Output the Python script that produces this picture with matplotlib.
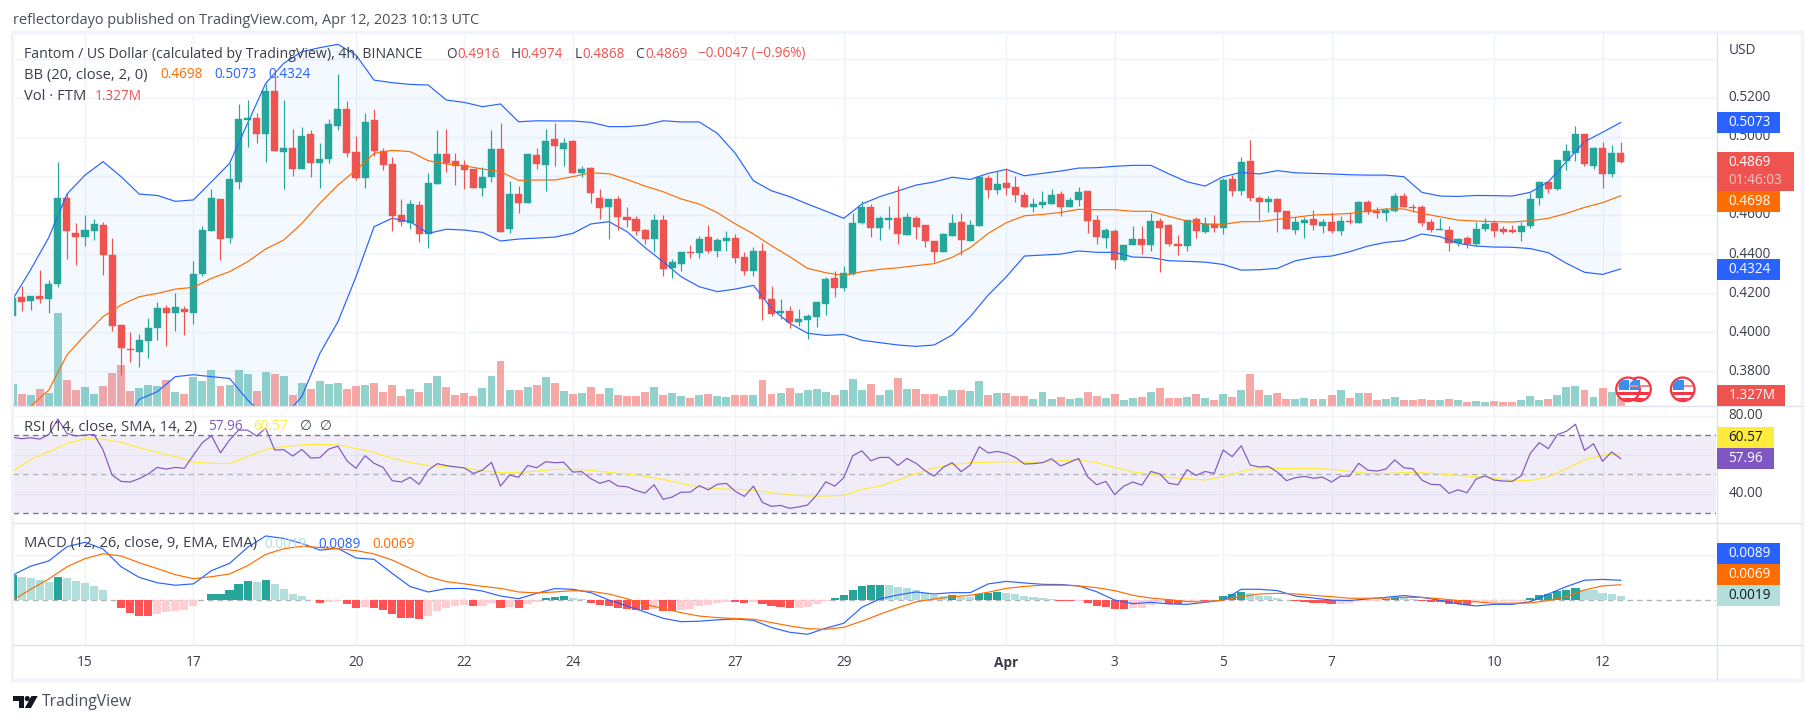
import numpy as np
import matplotlib
matplotlib.use("Agg")
import matplotlib.pyplot as plt
from matplotlib.patches import Rectangle, Circle, Polygon

W, H = 1814, 724

# 4h bars, index 0 is 15 Mar 00:00, six bars a day
FIRST_BAR = -8
TICK_BARS = [0, 12, 30, 42, 54, 72, 84, 102, 114, 126, 138, 156, 168]
TICK_LABELS = ["15", "17", "20", "22", "24", "27", "29", "Apr", "3", "5", "7", "10", "12"]

opens = [
    .4085, .4179, .4162, .4186, .4172, .4249, .4687, .4508, .4489, .4520,
    .4549, .4395, .4037, .3914, .3899, .3957, .4024, .4124, .4100, .4121,
    .4100, .4298, .4520, .4682, .4482, .4770, .5087, .5096, .5014, .5234,
    .4922, .4942, .4837, .5014, .4868, .4885, .5057, .5142, .4922, .4791,
    .5086, .4929, .4861, .4600, .4561, .4651, .4504, .4760, .4912, .4876,
    .4856, .4837, .4740, .4796, .4937, .4528, .4707, .4663, .4907, .4857,
    .4989, .4939, .4978, .4815, .4840, .4687, .4642, .4680, .4590, .4579,
    .4525, .4477, .4574, .4329, .4349, .4411, .4405, .4487, .4416, .4467,
    .4482, .4385, .4313, .4416, .4170, .4099, .4109, .4053, .4063, .4078,
    .4145, .4278, .4226, .4298, .4559, .4641, .4533, .4574, .4585, .4498,
    .4585, .4549, .4467, .4411, .4492, .4564, .4467, .4544, .4789, .4728,
    .4764, .4743, .4702, .4641, .4651, .4656, .4707, .4641, .4677, .4723,
    .4574, .4482, .4518, .4370, .4446, .4477, .4446, .4569, .4549, .4452,
    .4441, .4579, .4513, .4554, .4533, .4784, .4723, .4876, .4687, .4666,
    .4683, .4620, .4523, .4559, .4579, .4545, .4564, .4518, .4568, .4559,
    .4666, .4620, .4610, .4620, .4697, .4641, .4641, .4564, .4523, .4523,
    .4457, .4482, .4452, .4528, .4559, .4528, .4523, .4513, .4544, .4689,
    .4769, .4733, .4876, .4917, .5014, .4850, .4943, .4810, .4916,
]
closes = [
    .4174, .4157, .4186, .4172, .4247, .4687, .4520, .4487, .4521, .4554,
    .4397, .4034, .3921, .3911, .3961, .4022, .4124, .4100, .4129, .4105,
    .4298, .4523, .4687, .4479, .4784, .5091, .5096, .5016, .5234, .4929,
    .4942, .4837, .5004, .4868, .4886, .5065, .5142, .4919, .4789, .5075,
    .4929, .4857, .4595, .4566, .4656, .4504, .4764, .4912, .4866, .4852,
    .4830, .4740, .4794, .4937, .4515, .4707, .4663, .4912, .4861, .4978,
    .4955, .4966, .4816, .4835, .4714, .4637, .4682, .4591, .4576, .4518,
    .4477, .4574, .4324, .4359, .4411, .4407, .4477, .4416, .4472, .4482,
    .4380, .4313, .4416, .4170, .4093, .4109, .4053, .4068, .4083, .4155,
    .4273, .4226, .4303, .4559, .4641, .4533, .4585, .4585, .4503, .4590,
    .4539, .4467, .4411, .4503, .4559, .4472, .4549, .4794, .4728, .4758,
    .4738, .4702, .4641, .4656, .4666, .4702, .4641, .4677, .4718, .4569,
    .4487, .4523, .4370, .4446, .4477, .4446, .4569, .4533, .4452, .4441,
    .4574, .4518, .4554, .4533, .4779, .4723, .4871, .4689, .4666, .4682,
    .4615, .4528, .4566, .4576, .4549, .4566, .4518, .4569, .4564, .4666,
    .4615, .4610, .4625, .4697, .4641, .4636, .4559, .4523, .4528, .4457,
    .4477, .4452, .4528, .4554, .4518, .4513, .4513, .4544, .4682, .4769,
    .4735, .4881, .4927, .5014, .4861, .4943, .4810, .4917, .4869,
]
highs = [
    .4174, .4237, .4186, .4319, .4267, .4869, .4711, .4561, .4600, .4579,
    .4564, .4482, .4042, .4003, .3989, .4073, .4155, .4140, .4199, .4134,
    .4365, .4544, .4731, .4682, .4864, .5168, .5188, .5120, .5268, .5311,
    .5188, .5040, .5050, .5033, .4966, .5089, .5321, .5183, .5004, .5120,
    .5142, .4941, .4895, .4680, .4677, .4670, .4815, .5035, .5040, .4917,
    .4881, .4837, .4844, .5035, .5069, .4774, .4748, .4912, .4941, .5038,
    .5069, .4992, .4983, .4852, .4845, .4731, .4682, .4697, .4641, .4593,
    .4528, .4605, .4600, .4375, .4411, .4446, .4492, .4549, .4482, .4518,
    .4503, .4411, .4436, .4457, .4237, .4170, .4134, .4119, .4093, .4155,
    .4283, .4313, .4339, .4608, .4671, .4656, .4595, .4646, .4748, .4610,
    .4595, .4549, .4467, .4508, .4605, .4610, .4574, .4799, .4804, .4825,
    .4839, .4799, .4718, .4687, .4723, .4733, .4723, .4692, .4743, .4723,
    .4600, .4533, .4528, .4446, .4544, .4544, .4610, .4585, .4554, .4498,
    .4574, .4590, .4590, .4600, .4791, .4804, .4896, .4984, .4697, .4697,
    .4685, .4620, .4588, .4591, .4625, .4579, .4617, .4595, .4612, .4671,
    .4677, .4641, .4637, .4711, .4711, .4658, .4651, .4579, .4585, .4544,
    .4482, .4492, .4564, .4585, .4574, .4544, .4549, .4564, .4711, .4774,
    .4774, .4881, .4963, .5055, .5014, .4948, .4973, .4958, .4974,
]
lows = [
    .4085, .4111, .4114, .4151, .4100, .4233, .4377, .4344, .4441, .4472,
    .4293, .4008, .3781, .3850, .3824, .3870, .3961, .3931, .4006, .3988,
    .4042, .4288, .4520, .4370, .4458, .4735, .4949, .4970, .4873, .4929,
    .4735, .4799, .4837, .4796, .4740, .4868, .5035, .4898, .4781, .4740,
    .4902, .4830, .4520, .4544, .4527, .4460, .4431, .4760, .4822, .4753,
    .4731, .4740, .4699, .4769, .4515, .4509, .4608, .4663, .4837, .4723,
    .4852, .4852, .4816, .4796, .4663, .4579, .4479, .4523, .4537, .4498,
    .4452, .4412, .4290, .4279, .4313, .4380, .4380, .4405, .4385, .4416,
    .4354, .4293, .4290, .4063, .4083, .4068, .4022, .4032, .3966, .4027,
    .4088, .4180, .4211, .4293, .4554, .4487, .4472, .4528, .4452, .4498,
    .4477, .4436, .4359, .4411, .4492, .4395, .4467, .4544, .4687, .4707,
    .4702, .4666, .4641, .4615, .4636, .4656, .4595, .4641, .4646, .4508,
    .4452, .4431, .4324, .4365, .4446, .4400, .4416, .4308, .4441, .4395,
    .4416, .4482, .4508, .4513, .4504, .4699, .4702, .4673, .4574, .4617,
    .4515, .4528, .4503, .4482, .4523, .4510, .4510, .4498, .4554, .4559,
    .4605, .4585, .4569, .4615, .4641, .4615, .4544, .4513, .4523, .4416,
    .4441, .4431, .4441, .4518, .4487, .4503, .4508, .4467, .4533, .4651,
    .4712, .4728, .4830, .4876, .4850, .4835, .4738, .4794, .4868,
]
volumes_m = [
    3.67, 1.94, 1.83, 2.83, 2.22, 15.56, 4.33, 2.67, 3.17, 2.0,
    3.33, 5.5, 6.83, 2.5, 3.0, 3.5, 3.33, 4.33, 2.33, 2.0,
    4.83, 4.17, 6.0, 3.33, 3.5, 6.0, 5.33, 2.5, 5.67, 5.33,
    5.0, 1.83, 3.83, 2.83, 4.17, 3.67, 3.83, 2.83, 3.33, 3.5,
    3.83, 2.33, 3.5, 1.67, 2.83, 2.33, 3.83, 5.0, 3.17, 1.83,
    2.17, 1.67, 3.0, 5.0, 7.5, 2.67, 2.67, 3.17, 3.5, 4.83,
    3.83, 2.5, 2.0, 2.17, 3.17, 2.0, 3.0, 1.83, 1.67, 1.67,
    2.33, 3.17, 1.83, 2.17, 1.67, 1.33, 1.83, 2.0, 1.67, 1.5,
    1.83, 1.83, 1.83, 4.33, 2.0, 2.17, 3.0, 2.17, 2.67, 2.83,
    2.33, 1.83, 2.67, 4.5, 2.67, 3.67, 1.83, 2.67, 4.67, 2.83,
    2.83, 2.0, 2.0, 1.67, 2.67, 2.67, 2.5, 4.17, 1.83, 2.17,
    2.17, 1.67, 1.67, 1.17, 2.33, 1.17, 1.5, 1.17, 1.33, 2.33,
    1.67, 1.33, 2.0, 1.0, 1.33, 1.5, 2.33, 3.0, 1.33, 1.33,
    1.5, 2.0, 1.33, 1.0, 2.0, 1.5, 2.67, 5.33, 2.67, 1.83,
    2.17, 1.17, 1.17, 1.33, 1.17, 1.17, 1.83, 2.67, 1.33, 2.17,
    2.17, 1.0, 1.17, 1.5, 1.0, 1.0, 1.17, 1.0, 1.0, 1.17,
    1.0, .67, .83, .67, .83, .67, .67, 1.0, 1.67, 1.0,
    1.17, 1.83, 3.17, 3.33, 2.67, 1.5, 3.0, 2.33, 1.327,
]

# Bollinger bands, one value every second bar
bb_upper = [
    .4169, .4322, .4486, .4707, .4804, .4873, .4796, .4707, .4700, .4670,
    .4677, .4770, .4864, .5069, .5273, .5376, .5435, .5456, .5473, .5418,
    .5290, .5277, .5268, .5265, .5188, .5176, .5154, .5168, .5077, .5082,
    .5081, .5081, .5074, .5052, .5052, .5060, .5082, .5076, .5076, .5018,
    .4915, .4775, .4724, .4694, .4656, .4620, .4583, .4656, .4694, .4723,
    .4753, .4769, .4793, .4782, .4813, .4833, .4801, .4813, .4825, .4840,
    .4842, .4849, .4854, .4854, .4810, .4770, .4748, .4796, .4818, .4810,
    .4827, .4816, .4813, .4810, .4806, .4804, .4804, .4796, .4716, .4697,
    .4695, .4700, .4699, .4697, .4716, .4770, .4873, .4975, .5023, .5073,
]
bb_basis = [
    .3500, .3623, .3705, .3884, .3986, .4080, .4140, .4182, .4199, .4221,
    .4230, .4276, .4310, .4361, .4426, .4472, .4557, .4660, .4753, .4830,
    .4915, .4931, .4924, .4878, .4861, .4852, .4835, .4822, .4777, .4779,
    .4779, .4796, .4816, .4811, .4782, .4748, .4719, .4682, .4656, .4612,
    .4554, .4503, .4443, .4387, .4327, .4305, .4290, .4310, .4322, .4330,
    .4341, .4351, .4383, .4433, .4506, .4561, .4596, .4603, .4613, .4629,
    .4627, .4627, .4619, .4619, .4593, .4569, .4554, .4552, .4566, .4566,
    .4578, .4588, .4600, .4603, .4608, .4620, .4631, .4631, .4608, .4591,
    .4574, .4569, .4566, .4564, .4571, .4583, .4608, .4639, .4663, .4698,
]
bb_lower = [
    .3300, .3200, .2950, .3050, .3150, .3300, .3500, .3657, .3696, .3773,
    .3783, .3773, .3764, .3654, .3568, .3568, .3671, .3892, .4054, .4284,
    .4540, .4583, .4566, .4506, .4527, .4523, .4511, .4467, .4477, .4482,
    .4487, .4506, .4554, .4566, .4515, .4433, .4361, .4284, .4233, .4208,
    .4221, .4240, .4122, .4046, .3995, .3984, .3989, .3959, .3947, .3935,
    .3928, .3935, .3986, .4080, .4191, .4284, .4390, .4395, .4400, .4416,
    .4409, .4409, .4385, .4382, .4366, .4363, .4359, .4347, .4318, .4320,
    .4327, .4366, .4383, .4390, .4412, .4441, .4460, .4469, .4503, .4489,
    .4455, .4441, .4436, .4435, .4428, .4407, .4353, .4307, .4296, .4324,
]

rsi = [
    68.9, 68.2, 68.7, 68.0, 70.4, 78.3, 70.9, 69.6, 70.1, 70.4,
    62.4, 49.6, 46.3, 46.0, 47.7, 50.1, 53.5, 52.6, 53.5, 53.0,
    59.8, 66.2, 69.7, 61.0, 67.5, 72.6, 72.6, 69.6, 73.5, 62.4,
    62.6, 59.3, 62.7, 58.3, 58.5, 62.9, 64.4, 56.9, 53.0, 59.5,
    55.6, 53.5, 46.7, 46.0, 48.4, 44.8, 52.1, 55.4, 54.4, 53.8,
    53.2, 50.4, 52.1, 56.1, 43.9, 49.6, 48.4, 54.5, 53.3, 56.4,
    55.9, 56.1, 51.1, 51.3, 47.7, 45.3, 46.8, 43.9, 43.6, 41.7,
    40.3, 44.6, 37.1, 38.3, 40.8, 40.8, 44.1, 42.0, 44.8, 45.3,
    41.2, 38.6, 43.9, 35.5, 33.5, 34.0, 32.5, 33.2, 34.2, 39.3,
    46.1, 43.9, 48.2, 59.5, 62.0, 56.9, 58.6, 58.6, 54.5, 58.1,
    55.6, 51.8, 49.0, 53.5, 55.9, 51.3, 54.7, 64.1, 60.9, 61.7,
    60.7, 58.6, 55.2, 55.4, 55.9, 57.9, 54.2, 56.1, 58.1, 48.7,
    44.6, 46.3, 39.5, 43.9, 46.0, 44.4, 51.4, 50.1, 45.3, 44.6,
    52.3, 49.4, 51.4, 50.4, 62.4, 59.0, 64.6, 54.7, 53.7, 54.0,
    51.1, 46.7, 48.2, 48.9, 47.9, 48.5, 46.0, 49.0, 49.0, 55.6,
    52.1, 51.6, 52.6, 57.3, 53.3, 52.8, 47.0, 44.8, 44.6, 40.2,
    42.0, 40.5, 47.5, 49.2, 47.0, 46.5, 46.3, 49.2, 60.7, 66.2,
    63.1, 70.3, 72.0, 75.6, 62.2, 65.6, 56.6, 61.4, 57.96,
]
rsi_sma = [
    51.6, 57.6, 61.5, 65.8, 68.2, 68.0, 66.3, 63.6, 61.2, 59.0,
    56.2, 55.6, 55.4, 59.0, 62.7, 64.1, 65.1, 65.3, 65.0, 63.2,
    61.2, 58.1, 56.1, 54.4, 53.8, 53.2, 51.8, 50.8, 50.8, 51.6,
    52.5, 52.5, 52.0, 50.9, 50.1, 49.0, 47.3, 45.3, 43.4, 42.6,
    42.2, 41.7, 40.5, 39.5, 38.8, 38.8, 39.1, 42.2, 43.9, 47.0,
    50.4, 53.2, 54.9, 55.9, 56.1, 56.4, 56.1, 56.2, 56.9, 57.4,
    55.9, 53.5, 51.1, 50.1, 48.4, 47.7, 47.0, 48.7, 51.4, 53.2,
    53.0, 53.0, 53.0, 52.5, 51.4, 50.4, 50.4, 50.8, 50.8, 50.2,
    49.4, 48.7, 47.9, 46.8, 46.8, 48.7, 52.8, 57.3, 59.8, 60.57,
]

macd_line = [
    .0112, .0152, .0175, .0238, .0258, .0228, .0149, .0102, .0078, .0067,
    .0073, .0132, .0164, .0235, .0286, .0275, .0253, .0223, .0231, .0188,
    .0182, .0120, .0061, .0037, .0052, .0053, .0041, .0019, .0007, .0031,
    .0052, .0049, .0034, .0001, -.0025, -.0052, -.0080, -.0095, -.0093, -.0087,
    -.0083, -.0089, -.0121, -.0142, -.0151, -.0124, -.0102, -.0031, .0006, .0024,
    .0037, .0028, .0034, .0034, .0073, .0084, .0077, .0071, .0070, .0064,
    .0038, .0001, -.0015, -.0009, -.0016, -.0018, -.0009, .0001, .0049, .0049,
    .0043, .0019, .0010, .0001, -.0001, .0006, .0013, .0021, .0013, .0000,
    -.0016, -.0025, -.0018, -.0018, -.0006, .0028, .0061, .0089, .0093, .0089,
]
macd_signal = [
    .0001, .0049, .0095, .0149, .0185, .0207, .0197, .0167, .0141, .0114,
    .0096, .0105, .0117, .0154, .0204, .0229, .0240, .0235, .0229, .0221,
    .0206, .0179, .0142, .0105, .0083, .0073, .0062, .0053, .0037, .0033,
    .0037, .0043, .0040, .0028, .0007, -.0018, -.0036, -.0055, -.0070, -.0077,
    -.0081, -.0084, -.0099, -.0114, -.0126, -.0129, -.0120, -.0093, -.0062, -.0033,
    -.0007, .0006, .0016, .0022, .0036, .0053, .0062, .0067, .0067, .0064,
    .0056, .0043, .0022, .0010, .0003, -.0006, -.0007, .0001, .0016, .0028,
    .0031, .0028, .0022, .0016, .0009, .0009, .0010, .0013, .0013, .0007,
    -.0001, -.0007, -.0013, -.0013, -.0012, -.0001, .0016, .0046, .0064, .0069,
]
macd_hist = [
    .0112, .0104, .0101, .0090, .0083, .0104, .0101, .0086, .0077, .0064,
    .0046, .0001, -.0033, -.0056, -.0070, -.0071, -.0061, -.0052, -.0047, -.0043,
    -.0025, .0001, .0028, .0029, .0046, .0073, .0086, .0081, .0090, .0073,
    .0050, .0028, .0019, .0001, -.0012, -.0006, -.0002, -.0016, -.0034, -.0030,
    -.0034, -.0043, -.0061, -.0078, -.0079, -.0083, -.0070, -.0047, -.0034, -.0025,
    -.0021, -.0025, -.0024, -.0012, -.0034, -.0031, -.0034, -.0016, -.0007, .0010,
    .0015, .0019, .0010, .0006, -.0010, -.0021, -.0025, -.0034, -.0038, -.0043,
    -.0044, -.0038, -.0047, -.0048, -.0043, -.0038, -.0025, -.0021, -.0012, -.0007,
    -.0008, -.0012, -.0007, -.0016, -.0025, -.0030, -.0034, -.0033, -.0030, -.0016,
    -.0003, .0010, .0024, .0046, .0064, .0068, .0069, .0068, .0059, .0055,
    .0046, .0031, .0022, .0019, .0024, .0016, .0015, .0028, .0034, .0037,
    .0033, .0028, .0019, .0015, .0010, .0006, -.0001, -.0002, -.0001, -.0012,
    -.0025, -.0030, -.0038, -.0039, -.0034, -.0033, -.0021, -.0007, -.0016, -.0017,
    -.0007, -.0003, -.0004, .0001, .0019, .0028, .0037, .0033, .0019, .0018,
    .0010, .0000, -.0004, -.0007, -.0010, -.0012, -.0016, -.0015, -.0012, -.0003,
    -.0002, -.0001, .0007, .0010, .0009, .0004, -.0003, -.0007, -.0008, -.0016,
    -.0017, -.0022, -.0007, -.0006, -.0006, -.0003, -.0002, -.0001, .0010, .0024,
    .0028, .0041, .0046, .0055, .0046, .0045, .0033, .0028, .0019,
]

PRICE_GRID = [.54, .52, .50, .48, .46, .44, .42, .40, .38]
PRICE_LABELS = [.52, .50, .46, .44, .42, .40, .38]

TEAL = "#26a69a"
RED = "#ef5350"
BLUE = "#2962ff"
ORANGE = "#ff6d00"
PURPLE = "#7e57c2"
YELLOW = "#ffeb3b"
GRID = "#f0f3fa"
EDGE = "#e0e3eb"
INK = "#3a3d48"
FONT = ["Open Sans", "DejaVu Sans"]
LINE_W = 0.85
LABEL_SIZE = 10.6

bars = np.arange(len(opens)) + FIRST_BAR
every2 = np.arange(len(bb_upper)) * 2 + FIRST_BAR
o = np.array(opens)
c = np.array(closes)
up = c >= o

# pixel rows of the three panes; left and right edge of the plotting area
LEFT, RIGHT = 13, 1716.5
MAIN = (34, 406)
RSI = (406, 523)
MACD = (523, 645.3)
BAR_PX = 9.033
BAR0_PX = 85
xlim = ((LEFT - BAR0_PX) / BAR_PX, (RIGHT - BAR0_PX) / BAR_PX)

fig = plt.figure(figsize=(W / 100, H / 100), dpi=100, facecolor="white")


def pane(rows, ylim, zorder=1):
    ax = fig.add_axes([LEFT / W, 1 - rows[1] / H, (RIGHT - LEFT) / W, (rows[1] - rows[0]) / H],
                      zorder=zorder)
    ax.set_xlim(*xlim)
    ax.set_ylim(*ylim)
    ax.set_xticks([])
    ax.set_yticks([])
    for s in ax.spines.values():
        s.set_visible(False)
    ax.patch.set_alpha(0)
    return ax


def vgrid(ax):
    for t in TICK_BARS:
        ax.axvline(t, color=GRID, lw=1, zorder=0)


# volume pane sits under the candles, 6 px per million
vol_ax = pane(MAIN, (0, 62), zorder=1)
vgrid(vol_ax)
for p in PRICE_GRID:
    y_px = 97.7 + (0.52 - p) * 1955
    vol_ax.axhline((406 - y_px) / 6, color=GRID, lw=1, zorder=0)
vol_ax.bar(bars, volumes_m, width=0.88, color=[TEAL if u else RED for u in up], alpha=0.5, lw=0)

price_ax = pane(MAIN, (0.52 - (406 - 97.7) / 1955, 0.52 + (97.7 - 34) / 1955), zorder=2)
price_ax.fill_between(every2, bb_lower, bb_upper, color="#2196f3", alpha=0.05, lw=0)
price_ax.plot(every2, bb_upper, color=BLUE, lw=LINE_W)
price_ax.plot(every2, bb_lower, color=BLUE, lw=LINE_W)
price_ax.plot(every2, bb_basis, color=ORANGE, lw=LINE_W)
cols = np.where(up, TEAL, RED)
price_ax.vlines(bars, lows, highs, colors=cols, lw=0.85)
price_ax.bar(bars, np.abs(c - o), bottom=np.minimum(o, c), width=0.78, color=cols,
             edgecolor=cols, lw=0.3)

rsi_ax = pane(RSI, (80 - (523 - 415.7) / 1.95, 80 + (415.7 - 406) / 1.95))
vgrid(rsi_ax)
rsi_ax.axhline(80, color=GRID, lw=1, zorder=0.5)
rsi_ax.axhspan(30, 70, color=PURPLE, alpha=0.1, lw=0)
for v in (60, 40):
    rsi_ax.axhline(v, color=GRID, lw=1, zorder=0.5)
rsi_ax.axhline(70, color="#787b86", lw=1, ls=(0, (4, 3)))
rsi_ax.axhline(50, color="#b2b5be", lw=1, ls=(0, (4, 3)))
rsi_ax.axhline(30, color="#787b86", lw=1, ls=(0, (4, 3)))
rsi_ax.plot(every2, rsi_sma, color=YELLOW, lw=LINE_W)
rsi_ax.plot(bars, rsi, color=PURPLE, lw=LINE_W)

macd_ax = pane(MACD, (-(645.3 - 600.3) / 2250, (600.3 - 523) / 2250))
vgrid(macd_ax)
macd_ax.axhline(0.02, color=GRID, lw=1, zorder=0)
macd_ax.axhline(0, color="#b2b5be", lw=1, ls=(0, (4, 3)), zorder=0.5)
hist = np.array(macd_hist)
prev = np.r_[hist[0] - 1, hist[:-1]]
hist_cols = []
for h, q in zip(hist, prev):
    if h >= 0:
        hist_cols.append(TEAL if h > q else "#b2dfdb")
    else:
        hist_cols.append("#ff5252" if h < q else "#ffcdd2")
macd_ax.bar(bars, hist, width=0.9, color=hist_cols, lw=0)
macd_ax.plot(every2, macd_line, color=BLUE, lw=LINE_W)
macd_ax.plot(every2, macd_signal, color=ORANGE, lw=LINE_W)

# everything else is laid out in pixel coordinates on a full-figure overlay
over = fig.add_axes([0, 0, 1, 1], zorder=5)
over.set_xlim(0, W)
over.set_ylim(H, 0)
over.axis("off")

for y0 in (406, 523, 645.3):
    over.plot([LEFT, 1801], [y0, y0], color=EDGE, lw=1)
over.plot([RIGHT, RIGHT], [34, 679], color=EDGE, lw=1)
over.add_patch(Rectangle((12, 32), 1790, 648, fill=False, ec=GRID, lw=2.4))


def txt(x, y, s, color=INK, size=9.8, ha="left", **kw):
    return over.text(x, y, s, color=color, fontsize=size, ha=ha, va="center", family=FONT, **kw)


def row(y, parts, name_size=LABEL_SIZE):
    # the first piece of every row is the study name, the rest are its values
    for k, (x, s, col) in enumerate(parts):
        txt(x, y, s, col, name_size if k == 0 else 9.8)


txt(13, 20, "reflectordayo published on TradingView.com, Apr 12, 2023 10:13 UTC", "#4a4e59", 10.45)

row(54, [(24, "Fantom / US Dollar (calculated by TradingView), 4h, BINANCE", INK),
         (446.5, "O", INK), (457, "0.4916", RED), (510.5, "H", INK), (520.5, "0.4974", RED),
         (574.5, "L", INK), (582, "0.4868", RED), (635.5, "C", INK), (645, "0.4869", RED),
         (698, "−0.0047 (−0.96%)", RED)], name_size=10.15)
row(75, [(24, "BB (20, close, 2, 0)", INK), (160, "0.4698", ORANGE), (214, "0.5073", BLUE),
         (268, "0.4324", BLUE)])
row(96, [(24, "Vol · FTM", INK), (95, "1.327M", RED)])
row(427, [(24, "RSI (14, close, SMA, 14, 2)", INK), (208, "57.96", PURPLE), (253.5, "60.57", YELLOW),
          (300, "∅", INK), (320, "∅", INK)])
row(544, [(24, "MACD (12, 26, close, 9, EMA, EMA)", INK), (264, "0.0019", "#b2dfdb"),
          (318, "0.0089", BLUE), (372, "0.0069", ORANGE)])

# price scale
for p in PRICE_LABELS:
    txt(1728.5, 97.7 + (0.52 - p) * 1955, f"{p:.4f}")
txt(1728.5, 51, "USD")
txt(1728.5, 415.7, "80.00")
txt(1728.5, 493.7, "40.00")


def tag(y0, y1, x1, face):
    over.add_patch(Rectangle((RIGHT, y0), x1 - RIGHT, y1 - y0, color=face, lw=0, zorder=3))


TAG_X = 1728.5
tag(112, 132.7, 1779.5, BLUE)
txt(TAG_X, 122.5, "0.5073", "white", zorder=4)
tag(152, 191, 1794, RED)
txt(TAG_X, 162.5, "0.4869", "white", zorder=4)
txt(TAG_X, 180.5, "01:46:03", "#f9c4c3", zorder=4)
tag(191, 211.7, 1779.5, ORANGE)
txt(TAG_X, 201.5, "0.4698", "white", zorder=4)
tag(259, 279.7, 1779.5, BLUE)
txt(TAG_X, 269.5, "0.4324", "white", zorder=4)
tag(385, 406, 1784.6, RED)
txt(TAG_X, 395.5, "1.327M", "white", zorder=4)
tag(427, 448, 1773.7, YELLOW)
txt(TAG_X, 437.5, "60.57", "#131722", zorder=4)
tag(448, 469, 1773.7, PURPLE)
txt(TAG_X, 458.5, "57.96", "white", zorder=4)
tag(543.3, 564.3, 1779.5, BLUE)
txt(TAG_X, 553.5, "0.0089", "white", zorder=4)
tag(564.3, 585, 1779.5, ORANGE)
txt(TAG_X, 574.5, "0.0069", "white", zorder=4)
tag(585, 606, 1779.5, "#b2dfdb")
txt(TAG_X, 595.5, "0.0019", "#131722", zorder=4)

# time scale
for t, lab in zip(TICK_BARS, TICK_LABELS):
    txt(BAR0_PX + t * BAR_PX, 662.5, lab, ha="center", fontweight="bold" if lab == "Apr" else "normal")


def flag(cx, cy=389.3, r=11.8):
    over.add_patch(Circle((cx, cy), r, fc="white", ec="#f23645", lw=1.6, zorder=6))
    clip = Circle((cx, cy), r - 1, transform=over.transData)
    for (x, y, w, h, col) in [(cx - r, cy - 4, 2 * r, 2, "#f7868f"),
                              (cx - r, cy + 2.5, 2 * r, 3.5, "#f23645"),
                              (cx - r, cy + 8.5, 2 * r, 4, "#f23645"),
                              (cx - 9.5, cy - 9.5, 10.5, 10.5, "#3d8fee")]:
        piece = Rectangle((x, y), w, h, color=col, lw=0, zorder=7)
        over.add_patch(piece)
        piece.set_clip_path(clip)


for cx in (1639, 1628, 1682.7):
    flag(cx)

# logo mark and name under the chart
over.add_patch(Polygon([(13, 696), (24, 696), (24, 708), (18.5, 708), (18.5, 701), (13, 701)], color="#131722", lw=0))
over.add_patch(Circle((27.3, 698.6), 2.6, color="#131722", lw=0))
over.add_patch(Polygon([(31.5, 696), (37.7, 696), (31, 708), (24.8, 708)], color="#131722", lw=0))
txt(42, 702.5, "TradingView", "#4a4e59", 11.3)

fig.savefig("out.png", dpi=100, facecolor="white")
